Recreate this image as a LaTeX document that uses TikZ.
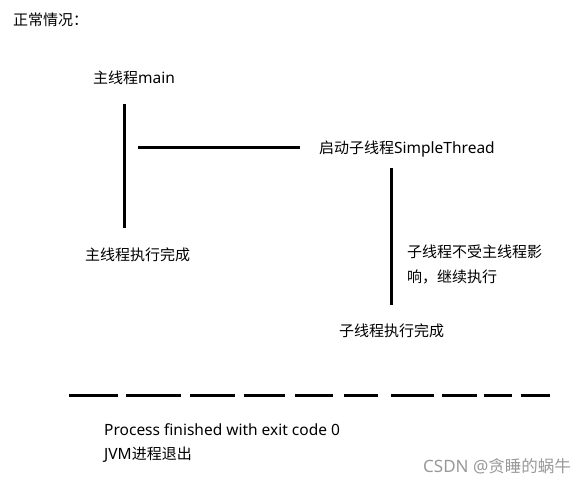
\documentclass[tikz,border=0pt]{standalone}
\usepackage{fontspec}
\setmainfont{Noto Sans}
\newfontfamily\cjk{Noto Sans CJK SC}
\newcommand\lat{\fontsize{15.5}{18}\selectfont}
\usetikzlibrary{positioning}

\begin{document}
\begin{tikzpicture}[x=1pt, y=-1pt,
    lbl/.style={anchor=west, inner sep=0pt, font=\fontsize{15}{18}\selectfont},
    bar/.style={line width=3pt}]
    \useasboundingbox[fill=white] (0,0) rectangle (584,483);

    \node[lbl] (title) at (13,20) {\cjk 正常情况：};
    \node[lbl] (main) at (93,78) {{\cjk 主线程}\lat main};
    \node[lbl] (start) at (319,149) {{\cjk 启动子线程}\lat SimpleThread};
    \node[lbl] (maindone) at (85,255) {\cjk 主线程执行完成};
    \node[lbl] (note1) at (407,252) {\cjk 子线程不受主线程影};
    \node[lbl] (note2) at (407,277) {\cjk 响，继续执行};
    \node[lbl] (subdone) at (339,331) {\cjk 子线程执行完成};
    \node[lbl, font=\lat] (exit) at (104,430) {Process finished with exit code 0};
    \node[lbl] (jvm) at (104,455) {{\lat JVM}{\cjk 进程退出}};
    \node[lbl, text=black!40, font=\fontsize{16.5}{19}\selectfont] (mark) at (423,466)
        {{\fontsize{17}{19}\selectfont CSDN @}{\cjk 贪睡的蜗牛}};

    % main thread
    \coordinate (m1) at (124,104);
    \coordinate (m2) at (124,228);
    \draw[bar] (m1) -- (m2);
    % start sub thread
    \coordinate (s1) at (138,147);
    \coordinate (s2) at (300,147);
    \draw[bar] (s1) -- (s2);
    % sub thread
    \coordinate (t1) at (391,168);
    \coordinate (t2) at (391,305);
    \draw[bar] (t1) -- (t2);

    % end of process
    \foreach \a/\b in {69/118, 126/181, 190/235, 244/285, 295/333,
                       344/378, 391/434, 442/477, 484/512, 521/550}
        \draw[bar] (\a,395) -- (\b,395);
\end{tikzpicture}
\end{document}
